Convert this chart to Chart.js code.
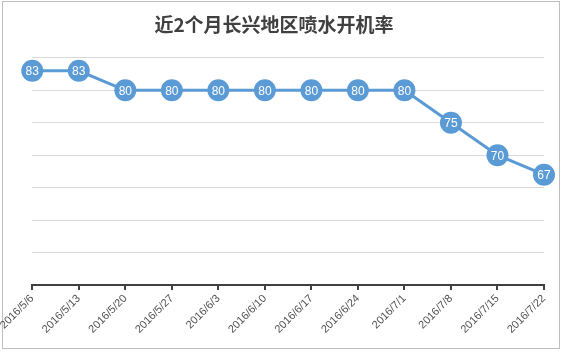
<!DOCTYPE html>
<html>
<head>
<meta charset="utf-8">
<script src="https://cdn.jsdelivr.net/npm/chart.js@4.4.0/dist/chart.umd.min.js"></script>
<style>
  html, body { margin: 0; padding: 0; background: #fff; }
  #wrap { width: 564px; height: 355px; }
</style>
</head>
<body>
<div id="wrap"><canvas id="myChart" width="564" height="355"></canvas></div>
<script>
let titleText = "近2个月长兴地区喷水开机率";
let dates = ["2016/5/6", "2016/5/13", "2016/5/20", "2016/5/27", "2016/6/3", "2016/6/10",
  "2016/6/17", "2016/6/24", "2016/7/1", "2016/7/8", "2016/7/15", "2016/7/22"];
let rates = [83, 83, 80, 80, 80, 80, 80, 80, 80, 75, 70, 67];
let yMin = 50, yMax = 85, yStep = 5;

// white page + thin gray frame like the office chart box
const frame = {
  id: "frame",
  beforeDraw(chart) {
    let c = chart.ctx;
    c.save();
    c.fillStyle = "#fff";
    c.fillRect(0, 0, chart.width, chart.height);
    c.strokeStyle = "#bfbfbf";
    c.lineWidth = 1;
    c.strokeRect(2.5, 1.5, 557, 347);
    c.restore();
  },
};

// numbers written inside the circles
const pointLabels = {
  id: "pointLabels",
  afterDatasetsDraw(chart) {
    let c = chart.ctx;
    let meta = chart.getDatasetMeta(0);
    c.save();
    c.fillStyle = "#fff";
    c.font = "12px 'Liberation Sans', sans-serif";
    c.textAlign = "center";
    c.textBaseline = "middle";
    meta.data.forEach((pt, i) => {
      c.fillText(chart.data.datasets[0].data[i], pt.x, pt.y + 1);
    });
    c.restore();
  },
};

const ctx = document.getElementById("myChart");
const myChart = new Chart(ctx, {
  type: "line",
  data: {
    labels: dates,
    datasets: [
      {
        data: rates,
        borderColor: "#5b9bd5",
        backgroundColor: "#5b9bd5",
        borderWidth: 3,
        pointRadius: 11,
        pointBorderWidth: 0,
        pointBackgroundColor: "#5b9bd5",
        tension: 0,
        clip: false,
      },
    ],
  },
  options: {
    responsive: false,
    animation: false,
    layout: { padding: { left: 4, right: 20, top: 0, bottom: 17 } },
    plugins: {
      legend: { display: false },
      tooltip: { enabled: false },
      title: {
        display: true,
        text: titleText,
        color: "#404040",
        font: { family: "'Noto Sans CJK SC', sans-serif", size: 19, weight: "bold" },
        padding: { top: 13, bottom: 22 },
      },
    },
    scales: {
      x: {
        offset: false,
        grid: { drawOnChartArea: false, drawTicks: true, tickLength: 5, color: "#404040", lineWidth: 2 },
        border: { color: "#404040", width: 2 },
        ticks: {
          color: "#505050",
          font: { family: "'Liberation Sans', sans-serif", size: 11 },
          minRotation: 45,
          maxRotation: 45,
          padding: 2,
          autoSkip: false,
        },
      },
      y: {
        min: yMin,
        max: yMax,
        ticks: { display: false, stepSize: yStep },
        grid: { color: "#d9d9d9", drawTicks: false },
        border: { display: false },
      },
    },
  },
  plugins: [frame, pointLabels],
});
</script>
</body>
</html>
